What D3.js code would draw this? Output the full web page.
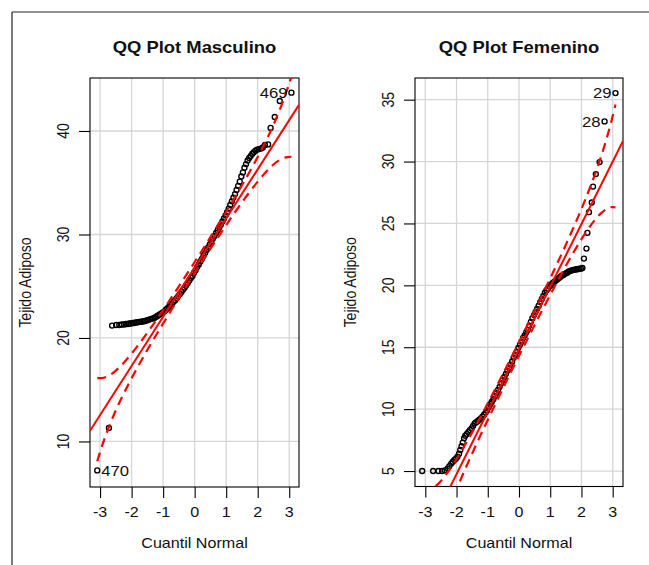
<!DOCTYPE html>
<html>
<head>
<meta charset="utf-8">
<script src="https://cdn.jsdelivr.net/npm/d3@7"></script>
<style>
  body { margin: 0; background: #fff; }
  text { font-family: "Liberation Sans", Arial, sans-serif; fill: #111; }
</style>
</head>
<body>
<svg id="chart" width="649" height="565"></svg>
<script>
// ---- data -------------------------------------------------------------
const xTicks = [-3, -2, -1, 0, 1, 2, 3];
const maleYTicks = [10, 20, 30, 40];
const femaleYTicks = [5, 10, 15, 20, 25, 30, 35];

// [normal quantile, tejido adiposo] for the male sample
const masculino = [
  [-3.09, 7.2], [-2.72, 11.3], [-2.62, 21.2], [-2.49, 21.25], [-2.39, 21.25], [-2.31, 21.3],
  [-2.24, 21.3], [-2.18, 21.35], [-2.12, 21.35], [-2.07, 21.4], [-2.02, 21.4], [-1.97, 21.45],
  [-1.92, 21.45], [-1.87, 21.5], [-1.82, 21.5], [-1.77, 21.55], [-1.72, 21.55], [-1.67, 21.6],
  [-1.62, 21.6], [-1.57, 21.65], [-1.52, 21.7], [-1.47, 21.75], [-1.42, 21.8], [-1.37, 21.85],
  [-1.32, 21.9], [-1.27, 21.95], [-1.22, 22.05], [-1.17, 22.15], [-1.12, 22.25], [-1.07, 22.35],
  [-1.02, 22.45], [-0.97, 22.55], [-0.92, 22.7], [-0.87, 22.85], [-0.82, 23.0], [-0.77, 23.15],
  [-0.72, 23.3], [-0.67, 23.5], [-0.62, 23.65], [-0.57, 23.85], [-0.52, 24.05], [-0.47, 24.25],
  [-0.42, 24.45], [-0.37, 24.65], [-0.32, 24.85], [-0.27, 25.1], [-0.22, 25.3], [-0.17, 25.55],
  [-0.12, 25.8], [-0.07, 26.0], [-0.02, 26.3], [0.03, 26.55], [0.08, 26.85], [0.13, 27.1],
  [0.18, 27.4], [0.23, 27.65], [0.28, 27.95], [0.33, 28.2], [0.38, 28.5], [0.43, 28.75],
  [0.48, 29.05], [0.53, 29.3], [0.58, 29.6], [0.63, 29.85], [0.68, 30.15], [0.73, 30.4],
  [0.78, 30.7], [0.83, 30.95], [0.88, 31.25], [0.93, 31.55], [0.98, 31.85], [1.03, 32.15],
  [1.08, 32.5], [1.13, 32.85], [1.18, 33.2], [1.23, 33.55], [1.28, 33.9], [1.33, 34.3],
  [1.38, 34.7], [1.43, 35.1], [1.48, 35.6], [1.53, 36.0], [1.58, 36.45], [1.63, 36.8],
  [1.68, 37.15], [1.73, 37.4], [1.78, 37.6], [1.83, 37.8], [1.88, 37.95], [1.93, 38.1],
  [1.98, 38.2], [2.04, 38.25], [2.10, 38.3], [2.16, 38.4], [2.23, 38.65], [2.33, 38.7],
  [2.41, 40.3], [2.54, 41.35], [2.70, 42.9], [3.07, 43.7]
];

// [normal quantile, tejido adiposo] for the female sample
const femenino = [
  [-3.10, 5.0], [-2.75, 5.0], [-2.58, 5.0], [-2.46, 5.0], [-2.37, 5.05], [-2.29, 5.2],
  [-2.23, 5.4], [-2.17, 5.6], [-2.12, 5.75], [-2.07, 5.9], [-2.02, 6.0], [-1.97, 6.15],
  [-1.92, 6.4], [-1.88, 6.7], [-1.84, 7.0], [-1.80, 7.3], [-1.76, 7.65], [-1.72, 7.85],
  [-1.67, 8.0], [-1.62, 8.15], [-1.57, 8.3], [-1.52, 8.45], [-1.47, 8.65], [-1.42, 8.85],
  [-1.37, 8.95], [-1.32, 9.05], [-1.27, 9.15], [-1.22, 9.25], [-1.17, 9.4], [-1.12, 9.55],
  [-1.07, 9.72], [-1.02, 9.9], [-0.97, 10.15], [-0.92, 10.4], [-0.87, 10.6], [-0.82, 10.8],
  [-0.77, 11.05], [-0.72, 11.3], [-0.67, 11.55], [-0.62, 11.8], [-0.57, 12.1], [-0.52, 12.35],
  [-0.47, 12.6], [-0.42, 12.85], [-0.37, 13.1], [-0.32, 13.35], [-0.27, 13.6], [-0.22, 13.85],
  [-0.17, 14.15], [-0.12, 14.4], [-0.07, 14.65], [-0.02, 14.95], [0.03, 15.2], [0.08, 15.45],
  [0.13, 15.75], [0.18, 15.95], [0.23, 16.2], [0.28, 16.4], [0.33, 16.75], [0.38, 17.05],
  [0.43, 17.35], [0.48, 17.6], [0.53, 17.85], [0.58, 18.1], [0.63, 18.35], [0.68, 18.65],
  [0.73, 18.9], [0.78, 19.15], [0.83, 19.4], [0.88, 19.6], [0.93, 19.75], [0.98, 19.9],
  [1.03, 20.05], [1.08, 20.2], [1.13, 20.3], [1.18, 20.4], [1.23, 20.5], [1.28, 20.6],
  [1.33, 20.7], [1.38, 20.8], [1.43, 20.85], [1.48, 20.95], [1.53, 21.0], [1.58, 21.1],
  [1.63, 21.15], [1.68, 21.2], [1.73, 21.25], [1.78, 21.25], [1.83, 21.3], [1.88, 21.3],
  [1.93, 21.35], [1.98, 21.35], [2.03, 21.4], [2.08, 22.16], [2.16, 22.97], [2.19, 24.24],
  [2.24, 25.91], [2.33, 26.69], [2.37, 27.98], [2.46, 28.99], [2.58, 29.96], [2.74, 33.24],
  [3.09, 35.53]
];

// reference lines (intercept, slope)
const maleLine = [26.8, 4.75];
const femaleLine = [14.85, 5.05];

// pointwise confidence envelopes
const maleEnvZ = [-3.09, -2.95, -2.8, -2.65, -2.5, -2.35, -2.2, -2.0, -1.75, -1.5, -1.25, -1.0, -0.5, 0,
                  0.5, 1.0, 1.25, 1.5, 1.75, 2.0, 2.2, 2.35, 2.5, 2.65, 2.8, 2.95, 3.07];
const maleEnvUpper = [16.15, 16.12, 16.24, 16.49, 16.85, 17.28, 17.77, 18.49, 19.47, 20.51, 21.58, 22.70,
                      24.99, 27.34, 29.74, 32.20, 33.46, 34.76, 36.09, 37.49, 38.67, 39.60, 40.60, 41.67,
                      42.84, 44.14, 45.25];
const maleEnvLower = [8.09, 9.46, 10.76, 11.93, 13.01, 14.0, 14.93, 16.11, 17.51, 18.85, 20.14, 21.40,
                      23.87, 26.26, 28.62, 30.90, 32.02, 33.10, 34.13, 35.11, 35.83, 36.32, 36.76, 37.11,
                      37.36, 37.48, 37.51];

const femaleEnvZ = [-3.10, -2.95, -2.8, -2.65, -2.5, -2.35, -2.2, -2.0, -1.75, -1.5, -1.25, -1.0, -0.5, 0,
                    0.5, 1.0, 1.25, 1.5, 1.75, 2.0, 2.2, 2.35, 2.5, 2.65, 2.8, 2.95, 3.09];
const femaleEnvUpper = [3.40, 3.38, 3.53, 3.82, 4.20, 4.67, 5.20, 5.97, 7.02, 8.12, 9.29, 10.47, 12.91,
                        15.41, 17.96, 20.57, 21.91, 23.28, 24.70, 26.17, 27.42, 28.41, 29.46, 30.58,
                        31.81, 33.18, 34.60];
const femaleEnvLower = [-5.02, -3.48, -2.11, -0.88, 0.24, 1.29, 2.28, 3.53, 5.0, 6.42, 7.80, 9.13, 11.75,
                        14.30, 16.80, 19.23, 20.42, 21.58, 22.68, 23.73, 24.50, 25.03, 25.50, 25.88,
                        26.17, 26.32, 26.30];

// identified observations: [label, index into the sample, side of the point]
const maleLabels = [["469", masculino.length - 1, "left"], ["470", 0, "right"]];
const femaleLabels = [["29", femenino.length - 1, "left"], ["28", femenino.length - 2, "left"]];

// ---- drawing ----------------------------------------------------------
const svg = d3.select("#chart");
const SX = 1.15;          // horizontal text stretch of the device
const FONT = 14;

// outer frame
svg.append("line").attr("x1", 12).attr("y1", 12).attr("x2", 649).attr("y2", 12)
  .attr("stroke", "#222").attr("stroke-width", 1.2);
svg.append("line").attr("x1", 12).attr("y1", 12).attr("x2", 12).attr("y2", 565)
  .attr("stroke", "#222").attr("stroke-width", 1.2);

function txt(g, x, y, s, opt = {}) {
  const t = g.append("text")
    .attr("transform", `translate(${x},${y}) scale(${SX},1)` + (opt.rotate ? ` rotate(${opt.rotate})` : ""))
    .attr("text-anchor", opt.anchor || "middle")
    .attr("font-size", opt.size || FONT)
    .text(s);
  if (opt.bold) t.attr("font-weight", "bold");
  if (opt.dy) t.attr("dy", opt.dy);
  return t;
}

function panel(cfg) {
  const g = svg.append("g");
  const x = d3.scaleLinear().domain(cfg.xDomain).range([cfg.left, cfg.right]);
  const y = d3.scaleLinear().domain(cfg.yDomain).range([cfg.bottom, cfg.top]);
  const clipId = "clip-" + cfg.id;
  svg.append("clipPath").attr("id", clipId).append("rect")
    .attr("x", cfg.left).attr("y", cfg.top)
    .attr("width", cfg.right - cfg.left).attr("height", cfg.bottom - cfg.top);

  // grid
  g.append("g").selectAll("line").data(xTicks).join("line")
    .attr("x1", d => x(d)).attr("x2", d => x(d))
    .attr("y1", cfg.top).attr("y2", cfg.bottom)
    .attr("stroke", "#d6d6d6").attr("stroke-width", 1.3);
  g.append("g").selectAll("line").data(cfg.yTicks).join("line")
    .attr("y1", d => y(d)).attr("y2", d => y(d))
    .attr("x1", cfg.left).attr("x2", cfg.right)
    .attr("stroke", "#d6d6d6").attr("stroke-width", 1.3);

  // axes
  const xa = g.append("g").attr("transform", `translate(0,${cfg.bottom})`)
    .call(d3.axisBottom(x).tickValues(xTicks).tickSize(11).tickFormat(""));
  const ya = g.append("g").attr("transform", `translate(${cfg.left},0)`)
    .call(d3.axisLeft(y).tickValues(cfg.yTicks).tickSize(11).tickFormat(""));
  [xa, ya].forEach(a => {
    a.select(".domain").remove();
    a.selectAll("line").attr("stroke", "#000").attr("stroke-width", 1.1);
  });
  xTicks.forEach(t => txt(g, x(t), 516.5, d3.format("")(t).replace("−", "-")));
  cfg.yTicks.forEach(t => txt(g, cfg.left - 21.5, y(t), String(t), { rotate: -90 }));

  // box
  g.append("rect").attr("x", cfg.left).attr("y", cfg.top)
    .attr("width", cfg.right - cfg.left).attr("height", cfg.bottom - cfg.top)
    .attr("fill", "none").attr("stroke", "#000").attr("stroke-width", 1.1);

  // titles
  txt(g, (cfg.left + cfg.right) / 2, 53, cfg.title, { bold: true, size: 16 });
  txt(g, (cfg.left + cfg.right) / 2, 548, "Cuantil Normal");
  txt(g, cfg.left - 59.5, (cfg.top + cfg.bottom) / 2, "Tejido Adiposo", { rotate: -90 });

  const plot = g.append("g").attr("clip-path", `url(#${clipId})`);

  // sample points
  plot.append("g").selectAll("circle").data(cfg.data).join("circle")
    .attr("cx", d => x(d[0])).attr("cy", d => y(d[1])).attr("r", 2.5)
    .attr("fill", "none").attr("stroke", "#000").attr("stroke-width", 1.35);

  // reference line
  const [a, b] = cfg.line;
  plot.append("line")
    .attr("x1", x(cfg.xDomain[0])).attr("y1", y(a + b * cfg.xDomain[0]))
    .attr("x2", x(cfg.xDomain[1])).attr("y2", y(a + b * cfg.xDomain[1]))
    .attr("stroke", "#ff0000").attr("stroke-width", 2);

  // envelope
  const env = d3.line().x(d => x(d[0])).y(d => y(d[1])).curve(d3.curveCatmullRom);
  [cfg.envUpper, cfg.envLower].forEach(vals => {
    plot.append("path").attr("d", env(cfg.envZ.map((z, i) => [z, vals[i]])))
      .attr("fill", "none").attr("stroke", "#ff0000").attr("stroke-width", 2.2)
      .attr("stroke-dasharray", "9,6");
  });

  // identified points
  cfg.labels.forEach(([s, i, side]) => {
    const d = cfg.data[i];
    const px = x(d[0]) + (side === "left" ? -4 : 4);
    txt(g, px, y(d[1]), s, { anchor: side === "left" ? "end" : "start", dy: "0.36em", size: 14.5 })
      .attr("fill", "#222");
  });
}

panel({
  id: "m", title: "QQ Plot Masculino",
  left: 90, right: 299, top: 78, bottom: 487,
  xDomain: [-3.32, 3.31], yDomain: [5.6, 45.12], yTicks: maleYTicks,
  data: masculino, line: maleLine,
  envZ: maleEnvZ, envUpper: maleEnvUpper, envLower: maleEnvLower, labels: maleLabels
});

panel({
  id: "f", title: "QQ Plot Femenino",
  left: 415, right: 623, top: 78, bottom: 486.5,
  xDomain: [-3.33, 3.33], yDomain: [3.75, 36.75], yTicks: femaleYTicks,
  data: femenino, line: femaleLine,
  envZ: femaleEnvZ, envUpper: femaleEnvUpper, envLower: femaleEnvLower, labels: femaleLabels
});
</script>
</body>
</html>
